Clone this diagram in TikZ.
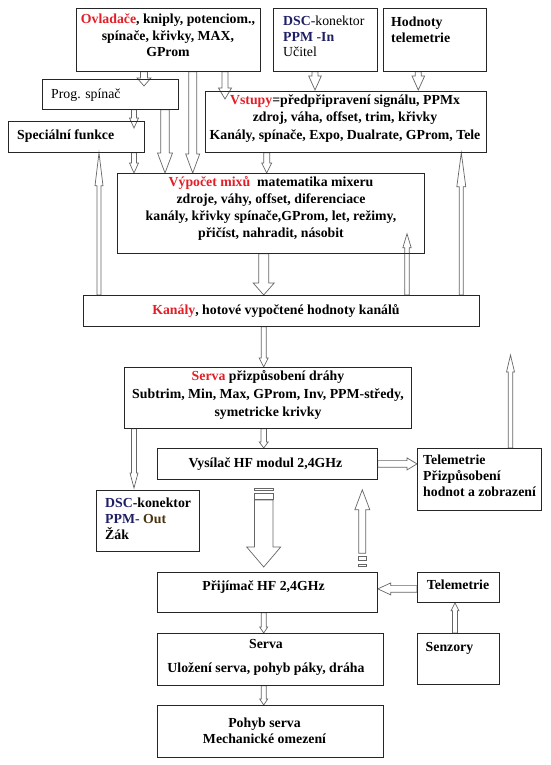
\documentclass[tikz,border=0pt]{standalone}
\usepackage{fontspec}
\setmainfont{Liberation Serif}
\usetikzlibrary{calc}
\definecolor{myred}{HTML}{E41E26}
\definecolor{navy}{HTML}{1F1F66}
\definecolor{brn}{HTML}{4A3410}
\definecolor{agray}{HTML}{666666}
\pgfdeclarelayer{bg}
\pgfsetlayers{bg,main}
\tikzset{
  box/.style={draw=black!85, line width=0.8pt, inner sep=0, anchor=north west},
  txt/.style={inner sep=0, font=\bfseries\fontsize{13.8}{16.5}\selectfont},
  skip/.style={font=\bfseries\fontsize{13.8}{#1}\selectfont},
  harrow/.style n args={3}{draw=agray, fill=white, line width=0.7pt, line join=miter,
    to path={let \p1=(\tikztostart), \p2=(\tikztotarget),
      \n1={atan2(\y2-\y1,\x2-\x1)}, \n2={veclen(\x2-\x1,\y2-\y1)} in
      ($(\p1)+(\n1+90:#1)$) -- ($(\p1)+(\n1:\n2-#3)+(\n1+90:#1)$)
      -- ($(\p1)+(\n1:\n2-#3)+(\n1+90:#2)$) -- (\p2)
      -- ($(\p1)+(\n1:\n2-#3)+(\n1-90:#2)$) -- ($(\p1)+(\n1:\n2-#3)+(\n1-90:#1)$)
      -- ($(\p1)+(\n1-90:#1)$) -- cycle}},
  strip/.style={draw=agray, fill=white, line width=0.7pt}
}
\begin{document}
\begin{tikzpicture}[x=1pt, y=1pt]
\useasboundingbox (0,0) rectangle (550,-765);
\begin{pgfonlayer}{bg}
\fill[white] (0,0) rectangle (550,-765);
\end{pgfonlayer}

% boxes
\node[box, minimum width=184, minimum height=63] (ov) at (76,-8) {};
\node[box, minimum width=104, minimum height=63] (dscin) at (273,-8) {};
\node[box, minimum width=103, minimum height=63] (hod) at (383,-8) {};
\node[box, minimum width=136, minimum height=30] (prog) at (42,-79) {};
\node[box, minimum width=136, minimum height=31] (spec) at (8,-121) {};
\node[box, minimum width=281, minimum height=61] (vst) at (205,-91) {};
\node[box, minimum width=307, minimum height=80] (vyp) at (117,-173) {};
\node[box, minimum width=396, minimum height=31] (kan) at (83,-295) {};
\node[box, minimum width=287, minimum height=61] (serva) at (124,-367) {};
\node[box, minimum width=220, minimum height=31] (vys) at (157,-448) {};
\node[box, minimum width=103, minimum height=61] (dscout) at (96,-490) {};
\node[box, minimum width=124, minimum height=62] (telr) at (417,-448) {};
\node[box, minimum width=220, minimum height=40] (prij) at (157,-572) {};
\node[box, minimum width=82, minimum height=30] (tels) at (417,-572) {};
\node[box, minimum width=226, minimum height=52] (serva2) at (157,-633) {};
\node[box, minimum width=82, minimum height=51] (senz) at (417,-633) {};
\node[box, minimum width=226, minimum height=52] (pohyb) at (157,-705) {};

% texts
\node[txt, align=center] (ovT) at (168,-35.5) {{\color{myred}Ovladače}, kniply, potenciom.,\\spínače, křivky, MAX,\\GProm};
\node[txt, skip=15.5, align=left, anchor=west] (dscinT) at (283,-36.5) {{\color{navy}DSC-}{\mdseries konektor}\\{\color{navy}PPM -In}\\{\mdseries Učitel}};
\node[txt, skip=16, align=left, anchor=west] (hodT) at (391,-30) {Hodnoty\\telemetrie};
\node[txt, anchor=west] (progT) at (51,-95) {\mdseries Prog. spínač};
\node[txt, anchor=west] (specT) at (17,-136) {Speciální funkce};
\node[txt, skip=17.5, align=center] (vstT) at (345,-118.5) {{\color{myred}Vstupy}=předpřipravení signálu, PPMx\\zdroj, váha, offset, trim, křivky\\Kanály, spínače, Expo, Dualrate, GProm, Tele};
\node[txt, skip=17, align=center] (vypT) at (271,-208.5) {{\color{myred}Výpočet mixů}\ \ matematika mixeru\\zdroje, váhy, offset, diferenciace\\kanály, křivky spínače,GProm, let, režimy,\\přičíst, nahradit, násobit};
\node[txt] (kanT) at (276,-311) {{\color{myred}Kanály}, hotové vypočtené hodnoty kanálů};
\node[txt, skip=18, align=center] (servaT) at (268,-395) {{\color{myred}Serva} přizpůsobení dráhy\\Subtrim, Min, Max, GProm, Inv, PPM-středy,\\symetricke krivky};
\node[txt] (vysT) at (265.5,-464) {Vysílač HF modul 2,4GHz};
\node[txt, skip=16, align=left, anchor=west] (dscoutT) at (105,-519) {{\color{navy}DSC}-konektor\\{\color{navy}PPM-} {\color{brn}Out}\\Žák};
\node[txt, skip=16, align=left, anchor=west] (telrT) at (423,-476) {Telemetrie\\Přizpůsobení\\hodnot a zobrazení};
\node[txt] (prijT) at (263.5,-587) {Přijímač HF 2,4GHz};
\node[txt] (telsT) at (458,-585) {Telemetrie};
\node[txt, skip=24, align=center] (serva2T) at (266,-657) {Serva\\Uložení serva, pohyb páky, dráha};
\node[txt] (senzT) at (449.5,-648) {Senzory};
\node[txt, skip=16, align=center] (pohybT) at (264.5,-731) {Pohyb serva\\Mechanické omezení};

% columns
\coordinate (x99) at (99,0);
\coordinate (x134) at (134,0);
\coordinate (x144) at (144,0);
\coordinate (x165) at (165,0);
\coordinate (x193) at (192.7,0);
\coordinate (x225) at (225,0);
\coordinate (x264) at (263.7,0);
\coordinate (x267) at (266.7,0);
\coordinate (x315) at (315,0);
\coordinate (x362) at (362.3,0);
\coordinate (x407) at (407,0);
\coordinate (x418) at (418.3,0);
\coordinate (x455) at (455,0);
\coordinate (x461) at (461.3,0);
\coordinate (x510) at (510.5,0);
\coordinate (telup) at (510.5,-355);

\begin{pgfonlayer}{bg}
\path[harrow={3.5}{7}{8}] (ov.south -| x144) to ($(prog.north -| x144)+(0,-7)$);
\path[harrow={4.3}{7.5}{20}] (prog.south -| x165) to (vyp.north -| x165);
\path[harrow={4}{7}{19}] (ov.south -| x193) to (vyp.north -| x193);
\path[harrow={3}{6.5}{11}] (ov.south -| x225) to ($(vst.north -| x225)+(0,-8)$);
\path[harrow={3}{6.3}{14}] (dscin.south -| x315) to ($(vst.north -| x315)+(0,1)$);
\path[harrow={3}{6.3}{14}] (hod.south -| x418) to ($(vst.north -| x418)+(0,1)$);
\path[harrow={2.5}{4.5}{10}] (prog.south -| x134) to ($(spec.north -| x134)+(0,-7)$);
\path[harrow={2.5}{4.5}{10}] (spec.south -| x134) to (vyp.north -| x134);
\path[harrow={2}{4}{33}] (kan.north -| x99) to (spec.south -| x99);
\path[harrow={3}{5}{10}] (vst.south -| x267) to (vyp.north -| x267);
\path[harrow={5}{10.5}{12}] (vyp.south -| x264) to (kan.north -| x264);
\path[harrow={2.2}{4.2}{14}] (kan.north -| x407) to ($(vyp.south -| x407)+(0,20)$);
\path[harrow={2}{4.5}{34}] (kan.north -| x461) to (vst.south -| x461);
\path[harrow={2.5}{4.5}{9}] (kan.south -| x264) to (serva.north -| x264);
\path[harrow={2.7}{4.5}{6}] (serva.south -| x264) to (vys.north -| x264);
\path[harrow={2.5}{4}{15}] (serva.south -| x134) to ($(dscout.north -| x134)+(0,2)$);
\path[harrow={3.3}{6}{10}] (vys.east) to (telr.west |- vys.east);
\path[harrow={2.2}{4}{17}] (telr.north -| x510) to (telup);
% big down arrow with strips
\path[strip] ($(vys.south -| x264)+(-9.2,-8.3)$) rectangle ($(vys.south -| x264)+(9.2,-11)$);
\path[strip] ($(vys.south -| x264)+(-9.2,-13.3)$) rectangle ($(vys.south -| x264)+(9.2,-19.3)$);
\path[harrow={9.2}{17}{20}] ($(vys.south -| x264)+(0,-20.3)$) to ($(prij.north -| x264)+(0,5)$);
% up arrow with strips
\path[harrow={3.5}{7.5}{20}] ($(prij.north -| x362)+(0,18.7)$) to ($(vys.south -| x362)+(0,-10)$);
\path[strip] ($(prij.north -| x362)+(-4.2,16)$) rectangle ($(prij.north -| x362)+(4.2,11.3)$);
\path[strip] ($(prij.north -| x362)+(-4.2,8)$) rectangle ($(prij.north -| x362)+(4.2,5.3)$);
\path[harrow={3.3}{6}{13}] ($(tels.west)+(0,-1.5)$) to ($(prij.east |- tels.west)+(0,-1.5)$);
\path[harrow={2.5}{4}{8}] (senz.north -| x455) to (tels.south -| x455);
\path[harrow={2.5}{4}{6}] (prij.south -| x264) to (serva2.north -| x264);
\path[harrow={2.5}{4}{6}] (serva2.south -| x264) to (pohyb.north -| x264);
\end{pgfonlayer}
\end{tikzpicture}
\end{document}
